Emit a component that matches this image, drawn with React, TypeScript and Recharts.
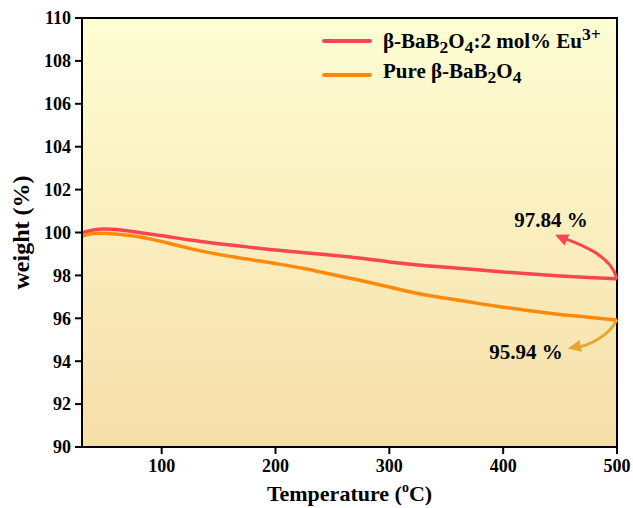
import React from "react";
import {
  LineChart,
  Line,
  XAxis,
  YAxis,
  ReferenceArea,
  ReferenceDot,
  Legend,
} from "recharts";

// TGA curves
const temps = [30, 40, 50, 60, 80, 100, 125, 150, 175, 200, 225, 250, 275, 300, 325, 350, 375, 400, 425, 450, 475, 500];
const euWeight = [99.98, 100.12, 100.16, 100.14, 100.0, 99.85, 99.65, 99.48, 99.33, 99.18, 99.06, 98.94, 98.8, 98.63, 98.49, 98.38, 98.27, 98.16, 98.06, 97.97, 97.9, 97.84];
const pureWeight = [99.82, 99.95, 99.96, 99.93, 99.8, 99.58, 99.25, 98.98, 98.76, 98.55, 98.32, 98.04, 97.76, 97.46, 97.16, 96.93, 96.72, 96.52, 96.34, 96.18, 96.05, 95.92];
const xTicks = [100, 200, 300, 400, 500];
const yTicks = [90, 92, 94, 96, 98, 100, 102, 104, 106, 108, 110];
const euFinal = 97.84;
const pureFinal = 95.94;

const data = temps.map((t, i) => ({ temp: t, eu: euWeight[i], pure: pureWeight[i] }));

const FONT = "'Liberation Serif', 'Times New Roman', serif";
const RED = "#f94452";
const ORANGE = "#ff8a0a";
const GOLD = "#e6a72c";

const tickStyle = { fill: "#000", fontSize: 18, fontWeight: 700, fontFamily: FONT };

const arrowHead = (tx: number, ty: number, fx: number, fy: number, color: string) => {
  const ang = Math.atan2(ty - fy, tx - fx);
  const len = 13;
  const w = 6;
  const bx = tx - len * Math.cos(ang);
  const by = ty - len * Math.sin(ang);
  const px = -Math.sin(ang) * w;
  const py = Math.cos(ang) * w;
  return <polygon points={`${tx},${ty} ${bx + px},${by + py} ${bx - px},${by - py}`} fill={color} />;
};

const EuMark = (p: any) => {
  const { cx, cy } = p;
  const tx = cx - 62;
  const ty = cy - 44;
  return (
    <g>
      <path
        d={`M${cx},${cy} C${cx - 6},${cy - 24} ${tx + 24},${ty + 9} ${tx + 8},${ty + 3}`}
        fill="none"
        stroke={RED}
        strokeWidth={3}
      />
      {arrowHead(tx, ty, tx + 14, ty + 6, RED)}
      <text x={cx - 66} y={cy - 52} textAnchor="middle" fontFamily={FONT} fontWeight={700} fontSize={21} fill="#000">
        {euFinal.toFixed(2)} %
      </text>
    </g>
  );
};

const PureMark = (p: any) => {
  const { cx, cy } = p;
  const tx = cx - 49;
  const ty = cy + 29;
  return (
    <g>
      <path
        d={`M${cx},${cy} C${cx - 8},${cy + 16} ${tx + 22},${ty - 3} ${tx + 8},${ty - 1}`}
        fill="none"
        stroke={GOLD}
        strokeWidth={3}
      />
      {arrowHead(tx, ty, tx + 14, ty - 3, GOLD)}
      <text x={cx - 91} y={cy + 39} textAnchor="middle" fontFamily={FONT} fontWeight={700} fontSize={21} fill="#000">
        {pureFinal.toFixed(2)} %
      </text>
    </g>
  );
};

const XTitle = (p: any) => {
  const { viewBox } = p;
  const x = viewBox.x + viewBox.width / 2;
  const y = viewBox.y + 54;
  return (
    <text x={x} y={y} textAnchor="middle" fontFamily={FONT} fontWeight={700} fontSize={22} fill="#000">
      <tspan>Temperature (</tspan>
      <tspan fontSize={14} dy={-9}>o</tspan>
      <tspan dy={9}>C)</tspan>
    </text>
  );
};

const YTitle = (p: any) => {
  const { viewBox } = p;
  const x = 29;
  const y = viewBox.y + viewBox.height / 2;
  return (
    <text
      x={x}
      y={y}
      transform={`rotate(-90, ${x}, ${y})`}
      textAnchor="middle"
      fontFamily={FONT}
      fontWeight={700}
      fontSize={24}
      fill="#000"
    >
      weight (%)
    </text>
  );
};

const legendRows = [
  { color: RED, label: <>β-BaB<sub>2</sub>O<sub>4</sub>:2 mol% Eu<sup>3+</sup></> },
  { color: ORANGE, label: <>Pure β-BaB<sub>2</sub>O<sub>4</sub></> },
];

const renderLegend = () => (
  <div style={{ fontFamily: FONT, fontWeight: 700, fontSize: 21, color: "#000" }}>
    {legendRows.map((r, i) => (
      <div key={i} style={{ display: "flex", alignItems: "center", height: 34, lineHeight: "21px" }}>
        <div style={{ width: 50, height: 4, background: r.color, borderRadius: 2, marginRight: 11 }} />
        <span>{r.label}</span>
      </div>
    ))}
  </div>
);

export default function App() {
  return (
    <div style={{ position: "absolute", left: 0, top: 0, width: 633, height: 508, background: "#fff" }}>
      <LineChart width={633} height={508} data={data} margin={{ top: 18, right: 16, bottom: 0, left: 0 }}>
        <defs>
          <linearGradient id="bgFill" x1="0" y1="0" x2="0" y2="1">
            <stop offset="0%" stopColor="#fefed4" />
            <stop offset="100%" stopColor="#f6dea9" />
          </linearGradient>
        </defs>
        <ReferenceArea x1={30} x2={500} y1={90} y2={110} fill="url(#bgFill)" fillOpacity={1} stroke="#000" strokeWidth={2} />
        <XAxis
          dataKey="temp"
          type="number"
          domain={[30, 500]}
          ticks={xTicks}
          allowDataOverflow
          height={61}
          tick={tickStyle}
          tickSize={7}
          tickMargin={5}
          axisLine={{ stroke: "#000", strokeWidth: 2 }}
          tickLine={{ stroke: "#000", strokeWidth: 2 }}
          label={<XTitle />}
        />
        <YAxis
          type="number"
          domain={[90, 110]}
          ticks={yTicks}
          allowDataOverflow
          width={82}
          tick={tickStyle}
          tickSize={7}
          tickMargin={4}
          axisLine={{ stroke: "#000", strokeWidth: 2 }}
          tickLine={{ stroke: "#000", strokeWidth: 2 }}
          label={<YTitle />}
        />
        <Line type="monotone" dataKey="eu" stroke={RED} strokeWidth={3.5} dot={false} isAnimationActive={false} />
        <Line type="monotone" dataKey="pure" stroke={ORANGE} strokeWidth={3.5} dot={false} isAnimationActive={false} />
        <ReferenceDot x={500} y={euFinal} r={0} shape={(p: any) => <EuMark {...p} />} />
        <ReferenceDot x={500} y={pureFinal} r={0} shape={(p: any) => <PureMark {...p} />} />
        <Legend
          layout="horizontal"
          verticalAlign="middle"
          align="center"
          content={renderLegend}
          wrapperStyle={{ top: 24, left: 322, width: 300 }}
        />
      </LineChart>
    </div>
  );
}
